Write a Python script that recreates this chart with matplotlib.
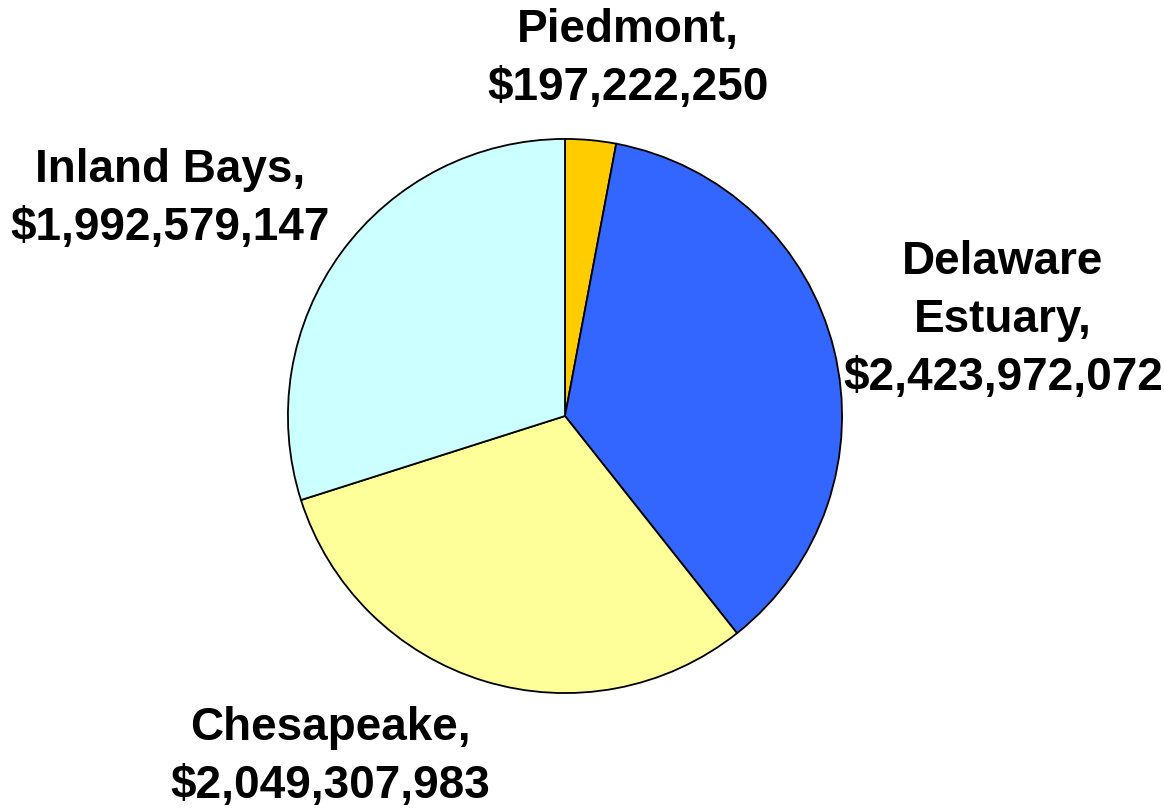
import matplotlib
matplotlib.use("Agg")
import matplotlib.pyplot as plt

regions = ["Piedmont", "Delaware\nEstuary", "Chesapeake", "Inland Bays"]
values = [197222250, 2423972072, 2049307983, 1992579147]
colors = ["#FFCC00", "#3366FF", "#FFFF99", "#CCFFFF"]

W, H = 1164, 810
fig = plt.figure(figsize=(W / 100, H / 100), dpi=100)
cx, cy, r = 565, 416, 279
ax = fig.add_axes([(cx - r) / W, (H - cy - r) / H, 2 * r / W, 2 * r / H])
ax.pie(values, colors=colors, startangle=90, counterclock=False,
       wedgeprops=dict(edgecolor="black", linewidth=1.3), radius=1.0)
ax.set_xlim(-1.007, 1.007)
ax.set_ylim(-1.007, 1.007)
ax.set_aspect("equal")
ax.axis("off")

# label positions (pixel centers of text blocks)
label_pos = [(628, 59), (1003, 320), (330, 757), (170, 199)]
for name, val, (px, py) in zip(regions, values, label_pos):
    fig.text(px / W, 1 - py / H, f"{name},\n${val:,}", ha="center", va="center",
             multialignment="center", fontsize=33, fontweight="bold",
             family="Liberation Sans", linespacing=1.42)

fig.savefig("out.png", dpi=100)
